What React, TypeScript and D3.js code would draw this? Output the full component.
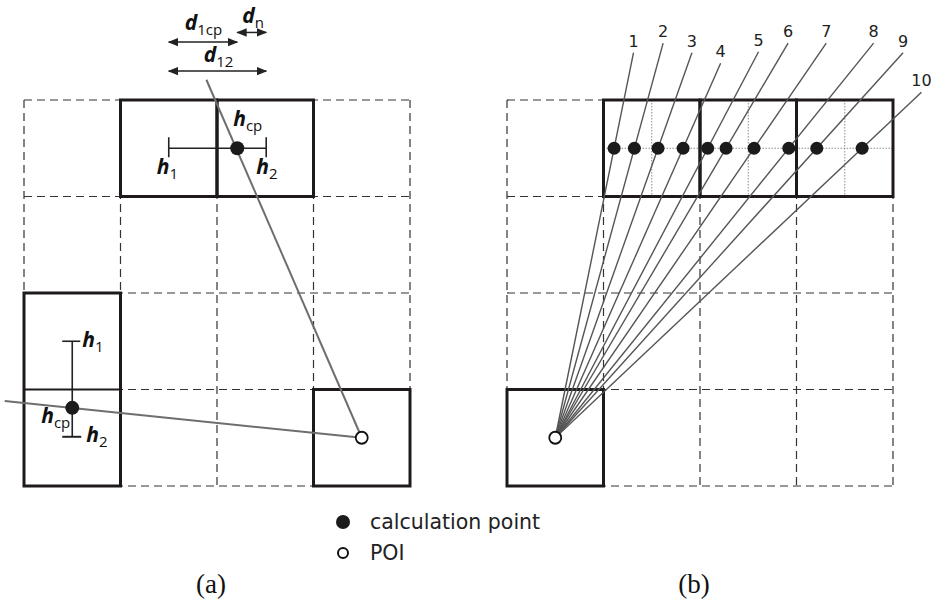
import React from "react";
import * as d3 from "d3";

// ---------- data (grid units: 4x4 cells) ----------
const gridIdx = [0, 1, 2, 3, 4];
// thick boxes [x, y, w, h] in cell units
const aBoxes = [
  [1, 0, 1, 1],
  [2, 0, 1, 1],
  [0, 2, 1, 2],
  [3, 3, 1, 1],
];
const bBoxes = [
  [1, 0, 1, 1],
  [2, 0, 1, 1],
  [3, 0, 1, 1],
  [0, 3, 1, 1],
];
const poi = [3.5, 3.5];
const bPoi = [0.5, 3.5];
// panel (a) calculation points and ray ends
const aCalc = [
  [2.21, 0.5],
  [0.5, 3.19],
];
const aRayEnds = [
  [1.89, -0.21],
  [-0.2, 3.12],
];
// panel (b) calculation points (x, on row y=0.5) and ray end heights
const bDotX = [1.11, 1.32, 1.565, 1.825, 2.08, 2.27, 2.56, 2.92, 3.21, 3.68];
const bRayEndY = [-0.49, -0.59, -0.49, -0.38, -0.5, -0.59, -0.59, -0.59, -0.49, -0.08];
const bLabels = ["1", "2", "3", "4", "5", "6", "7", "8", "9", "10"];
const bSubDiv = [1.5, 2.5, 3.5];

const FONT = "'Open Sans', 'Liberation Sans', sans-serif";
const DJ = "'DejaVu Sans', sans-serif";

export default function App() {
  const W = 932,
    H = 607;
  const y = d3.scaleLinear().domain([0, 4]).range([100, 486]);
  const xa = d3.scaleLinear().domain([0, 4]).range([24, 410]);
  const xb = d3.scaleLinear().domain([0, 4]).range([507, 893]);

  const dash = "8,5";
  const gridColor = "#333";
  const boxColor = "#1e1a1a";
  const rayColor = "#6e6e6e";

  const grid = (x: d3.ScaleLinear<number, number>, key: string) => (
    <g key={key}>
      {gridIdx.map((i) => (
        <line
          key={"v" + i}
          x1={x(i)}
          x2={x(i)}
          y1={y(0)}
          y2={y(4)}
          stroke={gridColor}
          strokeWidth={1.2}
          strokeDasharray={dash}
        />
      ))}
      {gridIdx.map((i) => (
        <line
          key={"h" + i}
          x1={x(0)}
          x2={x(4)}
          y1={y(i)}
          y2={y(i)}
          stroke={gridColor}
          strokeWidth={1.2}
          strokeDasharray={dash}
        />
      ))}
    </g>
  );

  const boxes = (x: d3.ScaleLinear<number, number>, list: number[][], key: string) => (
    <g key={key}>
      {list.map((b, i) => (
        <rect
          key={i}
          x={x(b[0])}
          y={y(b[1])}
          width={x(b[0] + b[2]) - x(b[0])}
          height={y(b[1] + b[3]) - y(b[1])}
          fill="none"
          stroke={boxColor}
          strokeWidth={3}
        />
      ))}
    </g>
  );

  // label with bold italic main letter and subscript
  const sym = (
    tx: number,
    ty: number,
    main: string,
    sub: string,
    k: string
  ) => (
    <text key={k} x={tx} y={ty} fontFamily={FONT} fontSize={21} fill="#111">
      <tspan fontWeight="bold" fontStyle="italic">
        {main}
      </tspan>
      <tspan fontSize={15} dy={5}>
        {sub}
      </tspan>
    </text>
  );

  // ----- panel (a) annotation geometry -----
  const hx1 = xa(1.5),
    hx2 = xa(2.51),
    hy = y(0.5);
  const vx = xa(0.5),
    vy1 = y(2.5),
    vy2 = y(3.49);
  const dRow1 = y(-0.6),
    dRowN = y(-0.7),
    dRow12 = y(-0.3);
  const cpx = xa(aCalc[0][0]);

  // ----- panel (b) rays -----
  const bRays = bDotX.map((dx, i) => {
    const x0 = xb(bPoi[0]),
      y0 = y(bPoi[1]);
    const x1 = xb(dx),
      y1 = y(0.5);
    const ye = y(bRayEndY[i]);
    const t = (ye - y0) / (y1 - y0);
    return { x0, y0, xe: x0 + (x1 - x0) * t, ye, cx: x1, cy: y1 };
  });

  return (
    <svg width={W} height={H} style={{ position: "absolute", left: 0, top: 0, background: "#fff" }}>
      <defs>
        <marker id="ah" viewBox="0 0 10 10" refX="9" refY="5" markerWidth="7" markerHeight="7" orient="auto-start-reverse">
          <path d="M0,1 L10,5 L0,9 Z" fill="#222" />
        </marker>
      </defs>
      <rect x={0} y={0} width={W} height={H} fill="#fff" />

      {/* ================= panel (a) ================= */}
      {grid(xa, "ga")}
      {boxes(xa, aBoxes, "ba")}
      <line x1={xa(0)} x2={xa(1)} y1={y(3)} y2={y(3)} stroke={boxColor} strokeWidth={2} />

      {/* rays */}
      {aRayEnds.map((e, i) => (
        <line
          key={"ar" + i}
          x1={xa(poi[0])}
          y1={y(poi[1])}
          x2={xa(e[0])}
          y2={y(e[1])}
          stroke={rayColor}
          strokeWidth={2}
        />
      ))}

      {/* horizontal h-bar */}
      <line x1={hx1} x2={hx2} y1={hy} y2={hy} stroke="#222" strokeWidth={1.6} />
      <line x1={hx1} x2={hx1} y1={hy - 11} y2={hy + 9} stroke="#222" strokeWidth={1.6} />
      <line x1={hx2} x2={hx2} y1={hy - 11} y2={hy + 9} stroke="#222" strokeWidth={1.6} />
      {/* vertical h-bar */}
      <line x1={vx} x2={vx} y1={vy1} y2={vy2} stroke="#222" strokeWidth={1.6} />
      <line x1={vx - 10} x2={vx + 8} y1={vy1} y2={vy1} stroke="#222" strokeWidth={1.6} />
      <line x1={vx - 10} x2={vx + 9} y1={vy2} y2={vy2} stroke="#222" strokeWidth={2} />

      {aCalc.map((c, i) => (
        <circle key={"ac" + i} cx={xa(c[0])} cy={y(c[1])} r={7} fill="#1b1b1b" />
      ))}
      <circle cx={xa(poi[0])} cy={y(poi[1])} r={6} fill="#fff" stroke="#111" strokeWidth={1.8} />

      {sym(hx1 - 12, hy + 26, "h", "1", "sh1")}
      {sym(hx2 - 10, hy + 26, "h", "2", "sh2")}
      {sym(cpx - 4, hy - 22, "h", "cp", "shcp")}
      {sym(vx + 10, vy1 + 6, "h", "1", "vh1")}
      {sym(vx + 14, vy2 + 5, "h", "2", "vh2")}
      {sym(vx - 31, vy2 - 14, "h", "cp", "vhcp")}

      {/* d arrows */}
      <line x1={hx1} x2={cpx} y1={dRow1} y2={dRow1} stroke="#222" strokeWidth={1.5} markerStart="url(#ah)" markerEnd="url(#ah)" />
      <line x1={cpx} x2={hx2} y1={dRowN} y2={dRowN} stroke="#222" strokeWidth={1.5} markerStart="url(#ah)" markerEnd="url(#ah)" />
      <line x1={hx1} x2={hx2} y1={dRow12} y2={dRow12} stroke="#222" strokeWidth={1.5} markerStart="url(#ah)" markerEnd="url(#ah)" />
      {sym(hx1 + 16, dRow1 - 12, "d", "1cp", "d1")}
      {sym(cpx + 5, dRowN - 9, "d", "n", "dn")}
      {sym(hx1 + 35, dRow12 - 9, "d", "12", "d12")}

      {/* ================= panel (b) ================= */}
      {grid(xb, "gb")}
      {bSubDiv.map((s, i) => (
        <line key={"sd" + i} x1={xb(s)} x2={xb(s)} y1={y(0)} y2={y(1)} stroke="#8a8a8a" strokeWidth={1} strokeDasharray="1.5,1.5" />
      ))}
      <line x1={xb(1)} x2={xb(4)} y1={y(0.5)} y2={y(0.5)} stroke="#8a8a8a" strokeWidth={1} strokeDasharray="1.5,1.5" />
      {boxes(xb, bBoxes, "bb")}

      {bRays.map((r, i) => (
        <line key={"br" + i} x1={r.x0} y1={r.y0} x2={r.xe} y2={r.ye} stroke="#555" strokeWidth={1.4} />
      ))}
      {bRays.map((r, i) => (
        <circle key={"bc" + i} cx={r.cx} cy={r.cy} r={6.5} fill="#1b1b1b" />
      ))}
      {bRays.map((r, i) => (
        <text key={"bl" + i} x={r.xe} y={r.ye - 6} textAnchor="middle" fontFamily={DJ} fontSize={16} fill="#222">
          {bLabels[i]}
        </text>
      ))}
      <circle cx={xb(bPoi[0])} cy={y(bPoi[1])} r={6} fill="#fff" stroke="#111" strokeWidth={1.8} />

      {/* ================= legend ================= */}
      <circle cx={343} cy={522} r={7} fill="#1b1b1b" />
      <text x={370} y={529} fontFamily={DJ} fontSize={20.5} fill="#222">
        calculation point
      </text>
      <circle cx={343} cy={553} r={5} fill="#fff" stroke="#111" strokeWidth={2} />
      <text x={370} y={560} fontFamily={DJ} fontSize={20.5} fill="#222">
        POI
      </text>

      {/* captions */}
      <text x={xa(2) - 6} y={593} textAnchor="middle" fontFamily="'Liberation Serif', 'DejaVu Serif', serif" fontSize={27} fill="#111">
        (a)
      </text>
      <text x={xb(2) - 6} y={593} textAnchor="middle" fontFamily="'Liberation Serif', 'DejaVu Serif', serif" fontSize={27} fill="#111">
        (b)
      </text>
    </svg>
  );
}
